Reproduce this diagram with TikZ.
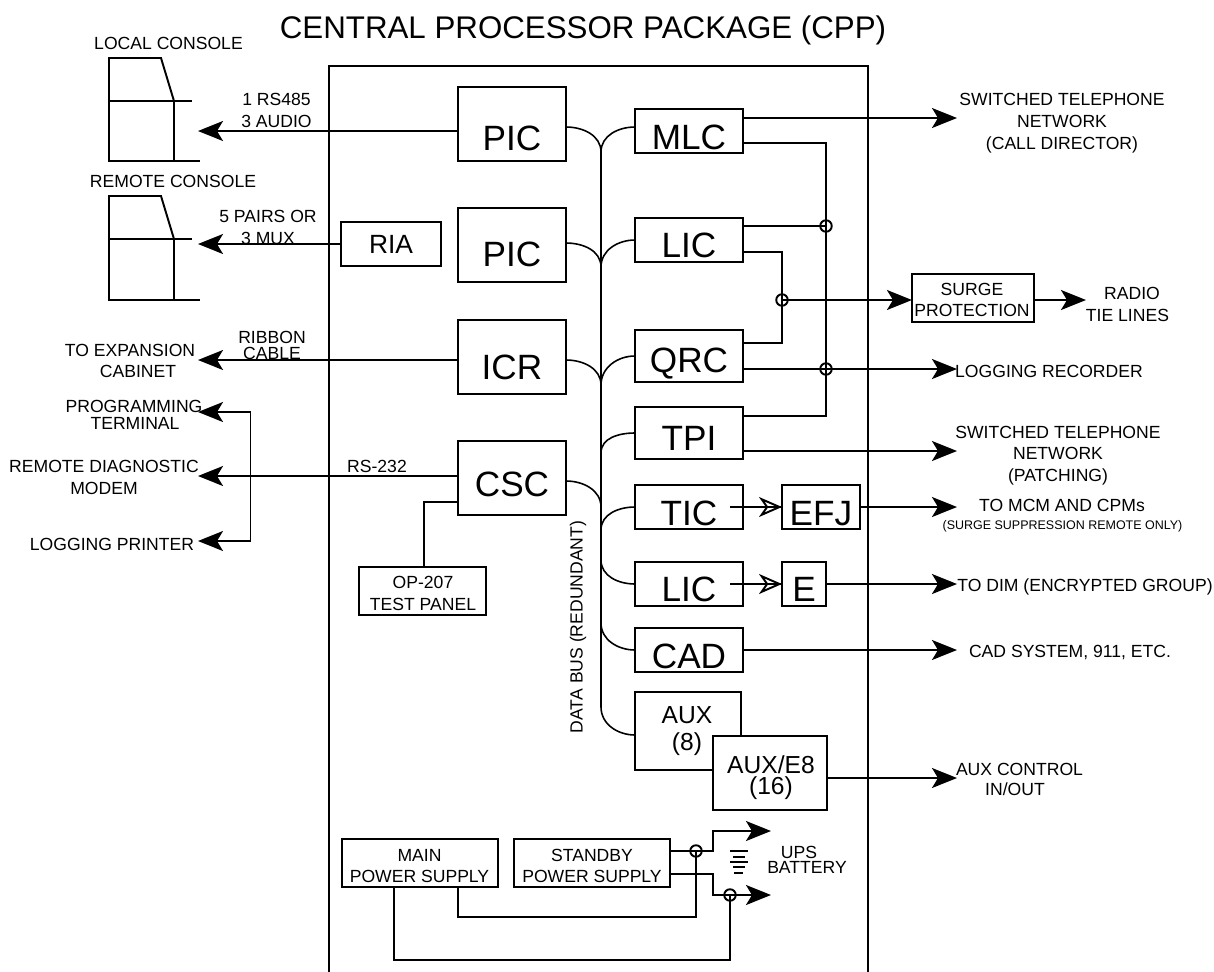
\documentclass[tikz,border=0pt]{standalone}
\usepackage{fontspec}
\setmainfont{Liberation Sans}
\usetikzlibrary{arrows.meta,positioning,calc}

\tikzset{
  wire/.style={line width=.55pt},
  arcwire/.style={line width=.45pt},
  sendline/.style={wire,-{Stealth[length=.25cm,width=.2cm,inset=.06cm]}},
  openline/.style={wire,-{Stealth[open,length=.23cm,width=.2cm,inset=.07cm]}},
  blk/.style={draw,wire,fill=white,inner sep=0pt,outer sep=0pt,font=\fontsize{10}{12}\selectfont,text depth=0pt},
  lowtxt/.style={text height=#1},
  hop/.style={draw,wire,circle,inner sep=0pt,outer sep=0pt,minimum size=.115cm},
  smalltxt/.style={inner sep=0pt,align=center,font=\fontsize{5}{6.2}\selectfont},
  midtxt/.style={inner sep=0pt,align=center,font=\fontsize{7}{7.7}\selectfont},
}

\begin{document}
\begin{tikzpicture}[x=.01cm,y=-.01cm]
  \useasboundingbox (0,0) rectangle (1214,972);
  \node[inner sep=0pt,font=\fontsize{8.9}{11}\selectfont] (title) at (583,30) {CENTRAL PROCESSOR PACKAGE (CPP)};

  % cabinet outline, open at the foot
  \draw[wire] (329,972) -- (329,66) -- (868,66) -- (868,972);

  % consoles
  \draw[wire] (109,101) -- (109,58) -- (161,58) -- (174,101) -- (174,161);
  \draw[wire] (109,101) -- (192,101);
  \draw[wire] (109,101) -- (109,161) -- (200,161);
  \draw[wire] (109,239) -- (109,196) -- (161,196) -- (174,239) -- (174,300);
  \draw[wire] (109,239) -- (192,239);
  \draw[wire] (109,239) -- (109,300) -- (200,300);
  \node[smalltxt] (localcon) at (168.5,43) {LOCAL CONSOLE};
  \node[smalltxt] (remotecon) at (173,181) {REMOTE CONSOLE};

  % left column
  \node[blk,minimum width=1.08cm,minimum height=.74cm,lowtxt=.53cm] (pica) at (512,124) {PIC};
  \node[blk,minimum width=1.08cm,minimum height=.74cm,lowtxt=.43cm] (picb) at (512,245) {PIC};
  \node[blk,minimum width=1.08cm,minimum height=.74cm,lowtxt=.45cm] (icr) at (512,357) {ICR};
  \node[blk,minimum width=1.08cm,minimum height=.74cm,lowtxt=.37cm] (csc) at (512,478) {CSC};
  \node[blk,minimum width=1cm,minimum height=.44cm,font=\fontsize{7.5}{9}\selectfont] (ria) at (391,244) {RIA};
  \node[blk,minimum width=1.27cm,minimum height=.48cm] (optest) at (422.5,591) {};
  \node[smalltxt] (optxt) at (423,593.5) {OP-207\\TEST PANEL};

  % right column
  \node[blk,minimum width=1.08cm,minimum height=.44cm,lowtxt=.37cm] (mlc) at (689,131) {MLC};
  \node[blk,minimum width=1.08cm,minimum height=.44cm,lowtxt=.34cm] (lica) at (689,240) {LIC};
  \node[blk,minimum width=1.08cm,minimum height=.52cm,lowtxt=.33cm] (qrc) at (689,356) {QRC};
  \node[blk,minimum width=1.08cm,minimum height=.52cm,lowtxt=.35cm] (tpi) at (689,433) {TPI};
  \node[blk,minimum width=1.08cm,minimum height=.44cm,lowtxt=.37cm] (tic) at (689,507) {TIC};
  \node[blk,minimum width=.78cm,minimum height=.44cm,lowtxt=.37cm] (efj) at (821,507) {EFJ};
  \node[blk,minimum width=1.08cm,minimum height=.44cm,lowtxt=.35cm] (licb) at (689,584) {LIC};
  \node[blk,minimum width=.44cm,minimum height=.44cm,lowtxt=.35cm] (enc) at (804,584) {E};
  \node[blk,minimum width=1.08cm,minimum height=.44cm,lowtxt=.36cm] (cad) at (689,650) {CAD};
  \node[blk,minimum width=1.06cm,minimum height=.78cm] (aux) at (688,731) {};
  \node[midtxt] (auxtxt) at (687,731.5) {AUX\\(8)};
  \node[blk,minimum width=1.14cm,minimum height=.74cm] (auxe) at (770,773) {};
  \node[midtxt,font=\fontsize{7}{6}\selectfont] (auxetxt) at (771,777.5) {AUX/E8\\(16)};

  % power supplies
  \node[blk,minimum width=1.56cm,minimum height=.48cm] (mainps) at (420,863) {};
  \node[smalltxt] (maintxt) at (419.5,866) {MAIN\\POWER SUPPLY};
  \node[blk,minimum width=1.56cm,minimum height=.48cm] (stbyps) at (592,863) {};
  \node[smalltxt] (stbytxt) at (592,866) {STANDBY\\POWER SUPPLY};

  % data bus and its taps
  \foreach \nm/\yy in {busa/152,busb/267,busc/385,busd/453,buse/507,busf/530,busg/560,bush/623,busi/707}
    \coordinate (\nm) at (601,\yy);
  \draw[wire] (busa) -- (busi);
  \draw[arcwire] ($(pica.east)+(0,3)$) to[out=0,in=90] (busa);
  \draw[arcwire] ($(mlc.west)+(0,-4)$) to[out=180,in=90] (busa);
  \draw[arcwire] ($(picb.east)+(0,-2)$) to[out=0,in=90] (busb);
  \draw[arcwire] (lica.west) to[out=180,in=90] (busb);
  \draw[arcwire] ($(icr.east)+(0,3)$) to[out=0,in=90] (busc);
  \draw[arcwire] (qrc.west) to[out=180,in=90] (busc);
  \draw[arcwire] (tpi.west) to[out=180,in=90] (busd);
  \draw[arcwire] ($(csc.east)+(0,3)$) to[out=0,in=90] (buse);
  \draw[arcwire] (tic.west) to[out=180,in=90] (busf);
  \draw[arcwire] (licb.west) to[out=180,in=-90] (busg);
  \draw[arcwire] (cad.west) to[out=180,in=-90] (bush);
  \draw[arcwire] ($(aux.west)+(0,4)$) to[out=180,in=-90] (busi);

  % crossings on the right
  \node[hop] (hopa) at (826,226) {};
  \node[hop] (hopb) at (826,369) {};
  \node[hop] (hopc) at (782,300) {};
  \coordinate (mlclo) at ($(mlc.east)+(0,12)$);
  \coordinate (liclo) at ($(lica.east)+(0,12)$);
  \coordinate (licup) at ($(lica.east)+(0,-14)$);
  \coordinate (qrcup) at ($(qrc.east)+(0,-13)$);
  \coordinate (qrclo) at ($(qrc.east)+(0,13)$);
  \coordinate (tpiup) at ($(tpi.east)+(0,-17)$);
  \coordinate (tpilo) at ($(tpi.east)+(0,18)$);
  \draw[wire] (mlclo) -- (mlclo -| hopa) -- (tpiup -| hopa) -- (tpiup);
  \draw[wire] (licup) -- (hopa.center);
  \draw[wire] (liclo) -- (liclo -| hopc) -- (qrcup -| hopc) -- (qrcup);

  % surge unit
  \node[blk,minimum width=1.22cm,minimum height=.48cm] (surge) at (973,298) {};
  \node[smalltxt] (surgetxt) at (972,300) {SURGE\\PROTECTION};
  \coordinate (surgein) at (surge.west |- hopc);
  \coordinate (surgeout) at (surge.east |- hopc);
  \draw[sendline] (hopc.center) -- (surgein);

  % outgoing lines, right
  \coordinate (tipa) at (957,118);
  \coordinate (tipb) at (1086,300);
  \coordinate (tipc) at (957,369);
  \coordinate (tipd) at (957,451);
  \coordinate (tipe) at (957,507);
  \coordinate (tipf) at (957,584);
  \coordinate (tipg) at (957,650);
  \coordinate (tiph) at (957,778);
  \draw[sendline] ($(mlc.east)+(0,-13)$) -- (tipa);
  \draw[sendline] (surgeout) -- (tipb);
  \draw[sendline] (qrclo) -- (tipc);
  \draw[sendline] (tpilo) -- (tipd);
  \draw[sendline] (efj.east) -- (tipe);
  \draw[sendline] (enc.east) -- (tipf);
  \draw[sendline] (cad.east) -- (tipg);
  \draw[sendline] (auxe.east |- tiph) -- (tiph);

  % encryption feeds
  \coordinate (ticin) at (730,507);
  \coordinate (licin) at (730,584);
  \draw[openline] (ticin) -- (efj.west);
  \draw[wire] (ticin) -- (efj.west);
  \draw[openline] (licin) -- (enc.west);
  \draw[wire] (licin) -- (enc.west);

  % outgoing lines, left
  \coordinate (tiploc) at (198,131);
  \coordinate (tiprem) at (198,244);
  \coordinate (tipexp) at (198,360);
  \coordinate (tipprog) at (198,412);
  \coordinate (tipdiag) at (198,476);
  \coordinate (tipprn) at (198,541);
  \coordinate (brk) at (250.5,476);
  \coordinate (csclo) at ($(csc.west)+(0,24)$);
  \coordinate (opin) at ($(optest.north)+(1.5,0)$);
  \draw[sendline] ($(pica.west)+(0,7)$) -- (tiploc);
  \draw[sendline] (ria.west) -- (tiprem);
  \draw[sendline] ($(icr.west)+(0,3)$) -- (tipexp);
  \draw[sendline] ($(csc.west)+(0,-2)$) -- (tipdiag);
  \draw[sendline] (brk) |- (tipprog);
  \draw[sendline] (brk) |- (tipprn);
  \draw[wire] (csclo) -| (opin);

  % supply feeds
  \node[hop] (hopd) at (696,851) {};
  \node[hop] (hope) at (730,895) {};
  \coordinate (upsa) at (771,831);
  \coordinate (upsb) at (771,895);
  \coordinate (forka) at (713,831);
  \coordinate (forkb) at (713,895);
  \coordinate (raila) at (696,917);
  \coordinate (railb) at (730,960);
  \draw[sendline] ($(stbyps.east)+(0,-12)$) -| (forka) -- (upsa);
  \draw[sendline] ($(stbyps.east)+(0,11)$) -| (forkb) -- (upsb);
  \draw[wire] ($(mainps.south)+(38,0)$) |- (raila) -- (hopd.center);
  \draw[wire] ($(mainps.south)+(-26,0)$) |- (railb) -- (hope.center);

  % battery
  \draw[wire] (730,851) -- (748,851);
  \draw[wire] (733,857) -- (745,857);
  \draw[wire] (730,862) -- (748,862);
  \draw[wire] (733,867) -- (745,867);
  \draw[wire] (734,873) -- (743,873);

  % labels
  \node[smalltxt] (rsa) at (276.5,110.5) {1 RS485\\3 AUDIO};
  \node[smalltxt] (pairs) at (268,227.5) {5 PAIRS OR\\3 MUX};
  \node[smalltxt] (ribbon) at (272,337) {RIBBON};
  \node[smalltxt] (cable) at (272,353) {CABLE};
  \node[smalltxt] (toexpa) at (130,350) {TO EXPANSION};
  \node[smalltxt] (toexpb) at (138,371) {CABINET};
  \node[smalltxt] (proga) at (134,406) {PROGRAMMING};
  \node[smalltxt] (progb) at (135,423) {TERMINAL};
  \node[smalltxt] (diag) at (104,477.5) {REMOTE DIAGNOSTIC\\MODEM};
  \node[smalltxt] (prn) at (112,544) {LOGGING PRINTER};
  \node[smalltxt] (rstwo) at (377,466) {RS-232};
  \node[smalltxt,rotate=90] (bus) at (578,627) {DATA BUS (REDUNDANT)};
  \node[smalltxt] (swa) at (1062,123) {SWITCHED TELEPHONE\\NETWORK\\(CALL DIRECTOR)};
  \node[smalltxt] (radio) at (1132,293) {RADIO};
  \node[smalltxt] (tieln) at (1127.5,315) {TIE LINES};
  \node[smalltxt] (logrec) at (1049,371) {LOGGING RECORDER};
  \node[smalltxt] (swb) at (1058,455.5) {SWITCHED TELEPHONE\\NETWORK\\(PATCHING)};
  \node[smalltxt] (tomcm) at (1062,505) {TO MCM AND CPMs};
  \node[smalltxt,font=\fontsize{3.55}{4.4}\selectfont] (surgeonly) at (1062.5,526) {(SURGE SUPPRESSION REMOTE ONLY)};
  \node[smalltxt] (todim) at (1085,587) {TO DIM (ENCRYPTED GROUP)};
  \node[smalltxt] (cadsys) at (1070,652) {CAD SYSTEM, 911, ETC.};
  \node[smalltxt] (auxca) at (1019.5,769) {AUX CONTROL};
  \node[smalltxt] (auxcb) at (1015,789) {IN/OUT};
  \node[smalltxt] (upsl) at (799,852) {UPS};
  \node[smalltxt] (batl) at (807,867) {BATTERY};
\end{tikzpicture}
\end{document}
